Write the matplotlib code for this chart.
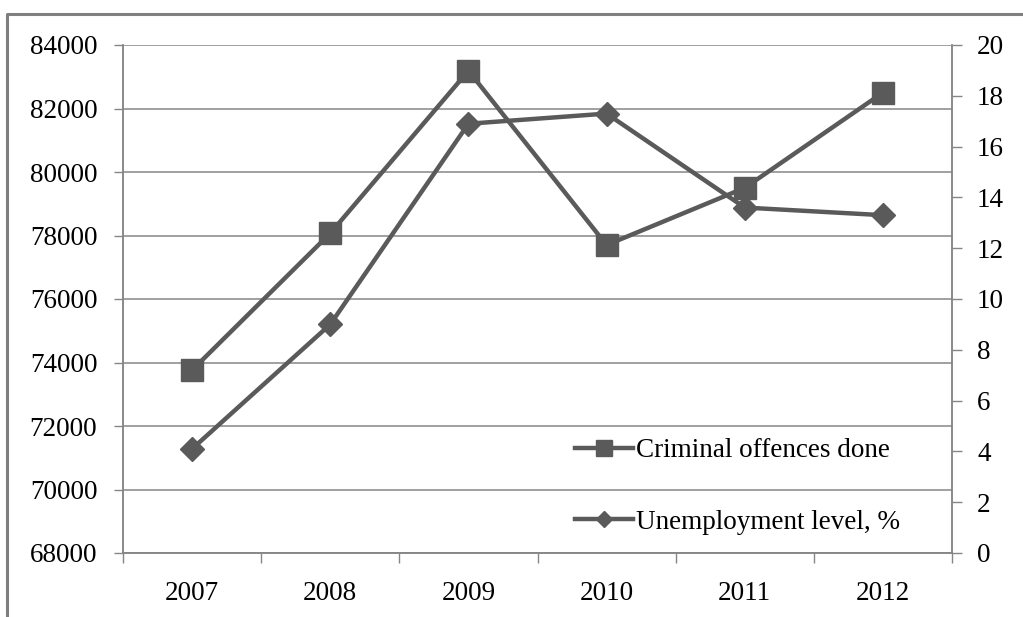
import numpy as np
import matplotlib.pyplot as plt
from matplotlib.lines import Line2D

# data
years = ["2007", "2008", "2009", "2010", "2011", "2012"]
offences = [73760, 78070, 83190, 77700, 79500, 82500]
unemployment = [4.1, 9.0, 16.9, 17.3, 13.6, 13.3]

left_ticks = [68000, 70000, 72000, 74000, 76000, 78000, 80000, 82000, 84000]
right_ticks = [0, 2, 4, 6, 8, 10, 12, 14, 16, 18, 20]

plt.rcParams['font.family'] = ['Liberation Serif', 'DejaVu Serif']
plt.rcParams['font.size'] = 19.5

line_col = "#5a5a5a"
axis_col = "#868686"

fig = plt.figure(figsize=(10.23, 6.17), dpi=100)
ax = fig.add_axes([123/1023, 64/617, (952-123)/1023, (553-45)/617])
ax2 = ax.twinx()

x = np.arange(len(years))

l1, = ax.plot(x, offences, color=line_col, lw=3.2, marker="s", markersize=16,
              label="Criminal offences done")
l2, = ax2.plot(x, unemployment, color=line_col, lw=3.2, marker="D", markersize=12,
               label="Unemployment level, %")

ax.set_xlim(-0.5, len(years) - 0.5)
ax.set_ylim(68000, 84000)
ax2.set_ylim(0, 20)
ax.set_yticks(left_ticks)
ax2.set_yticks(right_ticks)

# category ticks between years, labels in the middle
ax.set_xticks(np.arange(-0.5, len(years), 1.0))
ax.set_xticklabels([])
ax.set_xticks(x, minor=True)
ax.set_xticklabels(years, minor=True)
ax.tick_params(axis="x", which="major", length=7, width=1, color=axis_col)
ax.tick_params(axis="x", which="minor", length=0, pad=20)
ax.tick_params(axis="y", length=6.5, width=1, color=axis_col, pad=12)
ax2.tick_params(axis="y", length=7, width=1, color=axis_col, pad=11)

ax.yaxis.grid(True, color=axis_col, lw=1.1)
ax.set_axisbelow(True)

for a in (ax, ax2):
    a.spines["top"].set_visible(False)
    for s in ("left", "right", "bottom"):
        a.spines[s].set_color(axis_col)
        a.spines[s].set_linewidth(1.1)

ax2.legend(handles=[l1, l2], loc="center left", bbox_to_anchor=(575/1023, (617-486.5)/617),
           bbox_transform=fig.transFigure, frameon=False, borderpad=0, borderaxespad=0,
           handlelength=2.15, handletextpad=0.12, labelspacing=1.7, markerscale=0.7)

# outer frame
fig.add_artist(Line2D([7/1023, 7/1023, 1.01], [-0.01, 603/617, 603/617],
                      transform=fig.transFigure, color="#7f7f7f", lw=2.2))

fig.savefig("out.png", dpi=100)
